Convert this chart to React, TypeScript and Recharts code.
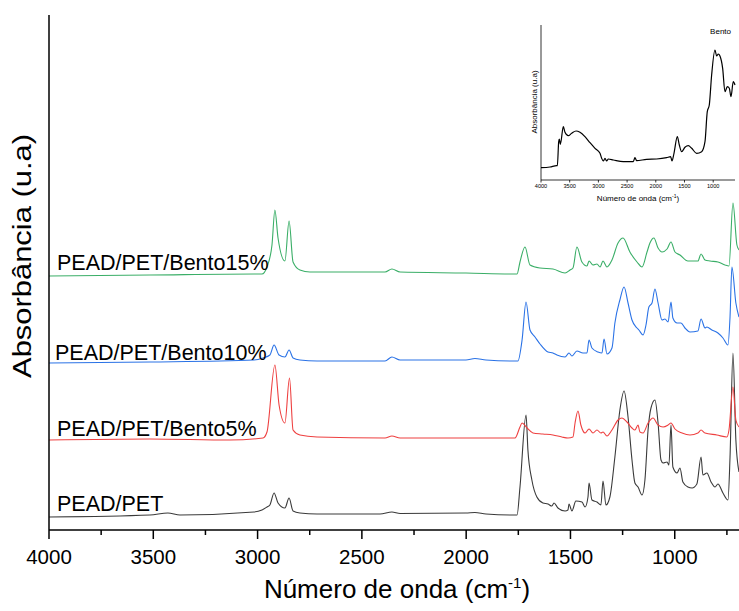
import { LineChart, Line, XAxis, YAxis } from "recharts";

// FTIR spectra, [wavenumber cm-1, absorbance a.u.] (curves already stacked as in the figure)
const peadPet: [number, number][] = [
  [4000, 0.13], [3516, 0.15], [3430, 0.17], [3372, 0.15], [3017, 0.18], [2979, 0.2],
  [2955, 0.23], [2941, 0.25], [2921, 0.37], [2902, 0.27], [2869, 0.22], [2849, 0.32],
  [2830, 0.19], [2797, 0.17], [2715, 0.16], [2413, 0.16], [2356, 0.18], [2317, 0.165],
  [2001, 0.17], [1958, 0.175], [1905, 0.16], [1766, 0.15], [1756, 0.15], [1742, 0.43],
  [1713, 1.15], [1704, 0.8], [1685, 0.5], [1661, 0.33], [1632, 0.27], [1608, 0.26],
  [1589, 0.24], [1579, 0.27], [1560, 0.22], [1526, 0.19], [1512, 0.2], [1507, 0.26],
  [1493, 0.19], [1474, 0.29], [1445, 0.28], [1430, 0.23], [1416, 0.33], [1411, 0.47],
  [1397, 0.3], [1373, 0.28], [1354, 0.25], [1344, 0.49], [1330, 0.25], [1311, 0.33],
  [1287, 0.73], [1263, 1.2], [1243, 1.39], [1224, 1.13], [1205, 0.7], [1191, 0.47],
  [1176, 0.43], [1157, 0.35], [1143, 0.5], [1128, 1.0], [1114, 1.22], [1095, 1.3],
  [1080, 1.07], [1066, 0.7], [1056, 0.67], [1037, 0.68], [1028, 0.65], [1018, 1.05],
  [1009, 0.63], [989, 0.57], [975, 0.62], [961, 0.48], [937, 0.43], [917, 0.42],
  [894, 0.46], [874, 0.73], [865, 0.55], [846, 0.57], [826, 0.48], [807, 0.43],
  [793, 0.46], [769, 0.37], [745, 0.3], [735, 0.73], [721, 1.77], [707, 0.9], [692, 0.58],
];

const bento5: [number, number][] = [
  [4000, 0.9], [3516, 0.91], [3132, 0.9], [2974, 0.92], [2955, 0.98], [2917, 1.65],
  [2897, 1.25], [2869, 1.07], [2847, 1.52], [2830, 1.0], [2797, 0.95], [2715, 0.93],
  [2389, 0.92], [2356, 0.94], [2317, 0.92], [2001, 0.92], [1766, 0.92], [1742, 1.03],
  [1732, 1.07], [1708, 1.02], [1680, 0.97], [1632, 0.96], [1584, 0.95], [1541, 0.93],
  [1512, 0.92], [1488, 0.93], [1478, 1.07], [1464, 1.19], [1450, 1.05], [1430, 0.97],
  [1411, 1.01], [1392, 0.97], [1373, 1.0], [1354, 0.97], [1344, 0.98], [1325, 0.94],
  [1301, 1.0], [1272, 1.1], [1253, 1.12], [1229, 1.08], [1205, 1.02], [1191, 1.0],
  [1176, 1.05], [1167, 0.98], [1152, 0.97], [1128, 1.07], [1104, 1.12], [1080, 1.05],
  [1056, 1.03], [1032, 1.05], [1018, 1.07], [999, 1.01], [965, 0.97], [927, 0.95],
  [889, 0.97], [874, 1.0], [855, 0.97], [798, 0.95], [750, 0.93], [740, 1.0],
  [721, 1.43], [707, 1.1], [692, 1.03],
];

const bento10: [number, number][] = [
  [4000, 1.67], [3516, 1.68], [3017, 1.7], [2974, 1.72], [2941, 1.75], [2921, 1.85],
  [2897, 1.75], [2869, 1.73], [2849, 1.8], [2830, 1.72], [2797, 1.7], [2715, 1.69],
  [2389, 1.69], [2356, 1.73], [2317, 1.7], [2001, 1.7], [1958, 1.715], [1905, 1.7],
  [1766, 1.69], [1752, 1.69], [1732, 1.9], [1713, 2.28], [1694, 2.0], [1670, 1.93],
  [1646, 1.86], [1608, 1.78], [1584, 1.77], [1565, 1.75], [1526, 1.73], [1507, 1.77],
  [1493, 1.74], [1469, 1.79], [1440, 1.77], [1421, 1.77], [1411, 1.9], [1397, 1.82],
  [1368, 1.78], [1349, 1.77], [1339, 1.91], [1325, 1.76], [1301, 1.82], [1287, 2.07],
  [1263, 2.3], [1243, 2.43], [1224, 2.27], [1205, 2.1], [1181, 2.02], [1172, 2.0],
  [1152, 1.95], [1138, 2.05], [1124, 2.23], [1109, 2.27], [1095, 2.41], [1080, 2.27],
  [1061, 2.1], [1047, 2.11], [1032, 2.08], [1018, 2.28], [1009, 2.12], [989, 2.07],
  [970, 2.07], [951, 2.02], [927, 1.98], [889, 1.99], [874, 2.11], [855, 2.02],
  [846, 2.03], [822, 2.0], [793, 1.97], [769, 1.92], [745, 1.85], [735, 2.13],
  [726, 2.63], [707, 2.27], [692, 2.13],
];

const bento15: [number, number][] = [
  [4000, 2.54], [3516, 2.55], [3017, 2.56], [2979, 2.56], [2955, 2.63], [2931, 2.85],
  [2917, 3.2], [2902, 2.92], [2869, 2.69], [2849, 3.09], [2830, 2.68], [2797, 2.6],
  [2749, 2.58], [2389, 2.58], [2356, 2.61], [2317, 2.58], [2001, 2.57], [1766, 2.56],
  [1756, 2.56], [1742, 2.68], [1718, 2.83], [1694, 2.65], [1646, 2.62], [1584, 2.61],
  [1526, 2.57], [1502, 2.6], [1488, 2.62], [1469, 2.83], [1445, 2.68], [1421, 2.64],
  [1411, 2.69], [1392, 2.65], [1373, 2.66], [1358, 2.63], [1344, 2.69], [1325, 2.63],
  [1301, 2.7], [1272, 2.87], [1248, 2.92], [1215, 2.78], [1181, 2.68], [1157, 2.63],
  [1133, 2.78], [1119, 2.87], [1100, 2.92], [1080, 2.82], [1061, 2.78], [1037, 2.81],
  [1018, 2.88], [999, 2.78], [975, 2.75], [937, 2.69], [889, 2.69], [874, 2.76],
  [855, 2.7], [831, 2.69], [793, 2.68], [759, 2.65], [740, 2.64], [721, 3.27],
  [702, 2.85], [692, 2.8],
];

// inset: pure bentonite
const bento: [number, number][] = [
  [4000, 0.123], [3843, 0.13], [3727, 0.143], [3715, 0.143], [3692, 0.383], [3681, 0.41],
  [3663, 0.357], [3611, 0.533], [3582, 0.477], [3524, 0.443], [3466, 0.467], [3390, 0.49],
  [3321, 0.477], [3234, 0.433], [3146, 0.373], [3059, 0.317], [2972, 0.267], [2943, 0.217],
  [2914, 0.19], [2885, 0.217], [2856, 0.19], [2827, 0.21], [2740, 0.2], [2566, 0.183],
  [2392, 0.183], [2363, 0.223], [2333, 0.193], [2159, 0.207], [1985, 0.21], [1811, 0.223],
  [1741, 0.233], [1718, 0.19], [1683, 0.267], [1625, 0.433], [1590, 0.35], [1550, 0.283],
  [1492, 0.327], [1433, 0.343], [1375, 0.317], [1288, 0.267], [1201, 0.283], [1143, 0.383],
  [1103, 0.683], [1068, 0.75], [1027, 1.05], [969, 1.3], [940, 1.24], [911, 1.26],
  [882, 1.24], [835, 1.117], [795, 0.883], [754, 0.933], [719, 0.917], [690, 0.833],
  [650, 0.983], [620, 0.95],
];

const mainTicks = [4000, 3750, 3500, 3250, 3000, 2750, 2500, 2250, 2000, 1750, 1500, 1250, 1000, 750];
const insetTicks = [4000, 3500, 3000, 2500, 2000, 1500, 1000];

const series = [
  { name: "PEAD/PET", data: peadPet, color: "#3a3a3a" },
  { name: "PEAD/PET/Bento5%", data: bento5, color: "#ee4040" },
  { name: "PEAD/PET/Bento10%", data: bento10, color: "#2a72e6" },
  { name: "PEAD/PET/Bento15%", data: bento15, color: "#3aae67" },
];

const toPoints = (arr: [number, number][]) => arr.map(([wn, a]) => ({ wn, a }));

const FONT = "'Liberation Sans', Arial, sans-serif";

function MainTick({ x, y, payload }: any) {
  const major = payload.value % 500 === 0;
  return (
    <g>
      <line x1={x} x2={x} y1={y} y2={y + (major ? 9 : 5)} stroke="#000" strokeWidth={1.5} />
      {major && (
        <text x={x} y={y + 34} textAnchor="middle" fontSize={20.5} fontFamily={FONT} fill="#000">
          {payload.value}
        </text>
      )}
    </g>
  );
}

function InsetTick({ x, y, payload }: any) {
  return (
    <g>
      <line x1={x} x2={x} y1={y} y2={y + 2.5} stroke="#000" strokeWidth={0.8} />
      <text x={x} y={y + 8} textAnchor="middle" fontSize={5.6} fontFamily={FONT} fill="#000">
        {payload.value}
      </text>
    </g>
  );
}

// label positions (left x, baseline y) for each spectrum
const labelPos: Record<string, [number, number]> = {
  "PEAD/PET": [57, 511],
  "PEAD/PET/Bento5%": [57, 435.5],
  "PEAD/PET/Bento10%": [55, 359.5],
  "PEAD/PET/Bento15%": [57, 269.5],
};

export default function App() {
  return (
    <div style={{ position: "absolute", left: 0, top: 0, width: 739, height: 611, background: "#fff" }}>
      <LineChart width={739} height={611} margin={{ top: 15, right: 0, left: 0, bottom: 0 }}>
        <XAxis
          dataKey="wn"
          type="number"
          domain={[692, 4000]}
          reversed
          ticks={mainTicks}
          interval={0}
          height={81}
          tickSize={0}
          tickMargin={0}
          tickLine={false}
          tick={<MainTick />}
          axisLine={{ stroke: "#000", strokeWidth: 1.5 }}
          allowDataOverflow
        />
        <XAxis
          xAxisId="top"
          orientation="top"
          dataKey="wn"
          type="number"
          domain={[692, 4000]}
          reversed
          height={0}
          tick={false}
          tickLine={false}
          axisLine={{ stroke: "#000", strokeWidth: 1.5 }}
        />
        <YAxis
          type="number"
          domain={[0, 5.15]}
          width={49}
          tick={false}
          tickLine={false}
          axisLine={{ stroke: "#000", strokeWidth: 1.5 }}
          allowDataOverflow
        />
        {series.map((s) => (
          <Line
            key={s.name}
            data={toPoints(s.data)}
            dataKey="a"
            type="monotone"
            stroke={s.color}
            strokeWidth={1.1}
            dot={false}
            isAnimationActive={false}
          />
        ))}
      </LineChart>

      {/* inset */}
      <div style={{ position: "absolute", left: 520, top: 15 }}>
        <LineChart width={219} height={195} margin={{ top: 10, right: 4, left: 0, bottom: 0 }}>
          <XAxis
            dataKey="wn"
            type="number"
            domain={[620, 4000]}
            reversed
            ticks={insetTicks}
            interval={0}
            height={30}
            tickSize={0}
            tickMargin={0}
            tickLine={false}
            tick={<InsetTick />}
            axisLine={{ stroke: "#000", strokeWidth: 0.8 }}
          />
          <XAxis
            xAxisId="top"
            orientation="top"
            dataKey="wn"
            type="number"
            domain={[620, 4000]}
            reversed
            height={0}
            tick={false}
            tickLine={false}
            axisLine={{ stroke: "#000", strokeWidth: 0.8 }}
          />
          <YAxis
            type="number"
            domain={[0, 1.55]}
            width={21}
            tick={false}
            tickLine={false}
            axisLine={{ stroke: "#000", strokeWidth: 0.8 }}
          />
          <Line
            data={toPoints(bento)}
            dataKey="a"
            type="monotone"
            stroke="#000"
            strokeWidth={1.2}
            dot={false}
            isAnimationActive={false}
          />
        </LineChart>
      </div>

      {/* text layer */}
      <svg
        width={739}
        height={611}
        style={{ position: "absolute", left: 0, top: 0, pointerEvents: "none" }}
        fontFamily={FONT}
      >
        {series.map((s) => (
          <text key={s.name} x={labelPos[s.name][0]} y={labelPos[s.name][1]} fontSize={21.5} fill="#000">
            {s.name}
          </text>
        ))}
        <text x={397} y={598} textAnchor="middle" fontSize={26} fill="#000">
          Número de onda (cm
          <tspan fontSize={15} dy={-10}>-1</tspan>
          <tspan dy={10}>)</tspan>
        </text>
        <text
          transform="translate(31,256) rotate(-90)"
          textAnchor="middle"
          fontSize={26}
          textLength={244}
          lengthAdjust="spacingAndGlyphs"
          fill="#000"
        >
          Absorbância (u.a)
        </text>

        <text x={638} y={201} textAnchor="middle" fontSize={8} fill="#000">
          Número de onda (cm
          <tspan fontSize={5} dy={-3}>-1</tspan>
          <tspan dy={3}>)</tspan>
        </text>
        <text transform="translate(536.5,102) rotate(-90)" textAnchor="middle" fontSize={8} fill="#000">
          Absorbância (u.a)
        </text>
        <text x={731} y={34} textAnchor="end" fontSize={8} fill="#000">
          Bento
        </text>
      </svg>
    </div>
  );
}
